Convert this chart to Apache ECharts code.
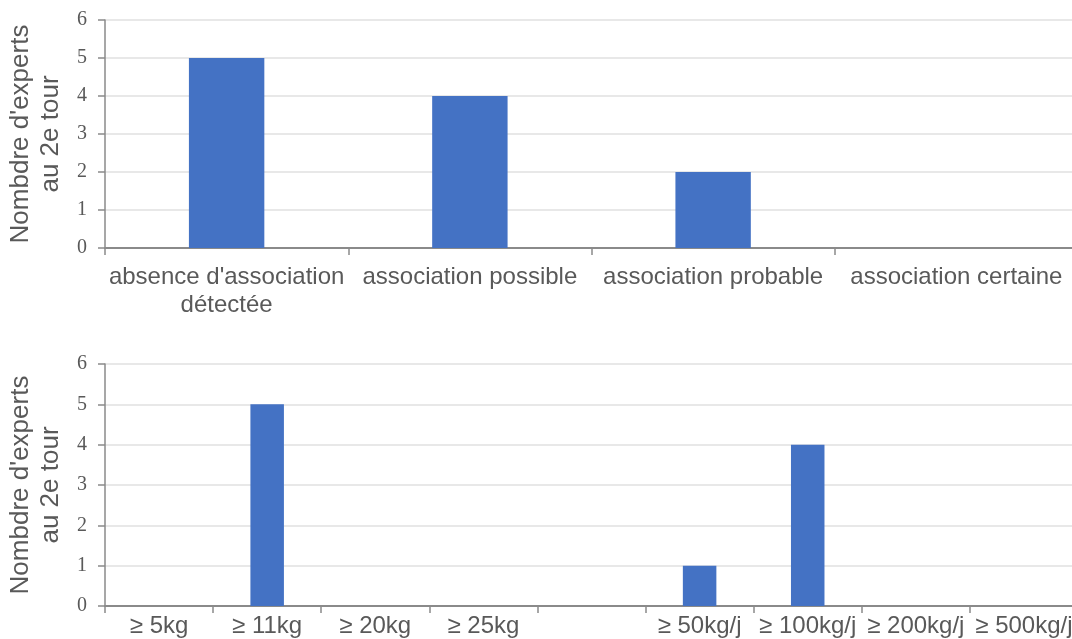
<!DOCTYPE html>
<html>
<head>
<meta charset="utf-8">
<script src="https://cdn.jsdelivr.net/npm/echarts@6/dist/echarts.min.js"></script>
<style>html,body{margin:0;padding:0;background:#fff;}#c{width:1072px;height:639px;}</style>
</head>
<body>
<div id="c"></div>
<script>
const topCategories = ["absence d'association\ndétectée", "association possible", "association probable", "association certaine"];
const topValues = [5, 4, 2, 0];
const bottomCategories = ["≥ 5kg", "≥ 11kg", "≥ 20kg", "≥ 25kg", "", "≥ 50kg/j", "≥ 100kg/j", "≥ 200kg/j", "≥ 500kg/j"];
const bottomValues = [0, 5, 0, 0, 0, 1, 4, 0, 0];
const yTitle = "Nombdre d'experts\nau 2e tour";

const txt = '#595959';
const axisCol = '#8a8a8a';
function xAxis(gridIndex, data, margin) {
  return {
    type: 'category', gridIndex, data,
    axisLine: { lineStyle: { color: axisCol, width: 2 } },
    axisTick: { show: true, length: 7, lineStyle: { color: axisCol, width: 1.5 } },
    axisLabel: { color: txt, fontFamily: 'Liberation Sans, Arial, sans-serif', fontSize: 24, lineHeight: 28, margin: margin, interval: 0 }
  };
}
function yAxis(gridIndex) {
  return {
    type: 'value', gridIndex, min: 0, max: 6, interval: 1,
    name: yTitle, nameLocation: 'middle', nameGap: 37, nameRotate: 90,
    nameTextStyle: { color: txt, fontFamily: 'Liberation Sans, Arial, sans-serif', fontSize: 26, lineHeight: 30 },
    axisLine: { show: true, lineStyle: { color: axisCol, width: 1.5 } },
    axisTick: { show: true, length: 7, lineStyle: { color: axisCol, width: 1.5 } },
    axisLabel: { color: txt, fontFamily: 'Liberation Serif, Times New Roman, serif', fontSize: 20, margin: 18 },
    splitLine: { lineStyle: { color: '#e0e0e0', width: 1.5 } }
  };
}
const chart = echarts.init(document.getElementById('c'), null, { renderer: 'canvas' });
chart.setOption({
  animation: false,
  backgroundColor: '#fff',
  grid: [
    { left: 105, right: -6, top: 20, height: 228, outerBoundsMode: 'none', containLabel: false },
    { left: 105, right: -6, top: 364, height: 242, outerBoundsMode: 'none', containLabel: false }
  ],
  xAxis: [xAxis(0, topCategories, 15), xAxis(1, bottomCategories, 6)],
  yAxis: [yAxis(0), yAxis(1)],
  series: [
    { type: 'bar', xAxisIndex: 0, yAxisIndex: 0, data: topValues, barWidth: '31%', itemStyle: { color: '#4472C4' } },
    { type: 'bar', xAxisIndex: 1, yAxisIndex: 1, data: bottomValues, barWidth: '31%', itemStyle: { color: '#4472C4' } }
  ]
});
</script>
</body>
</html>
